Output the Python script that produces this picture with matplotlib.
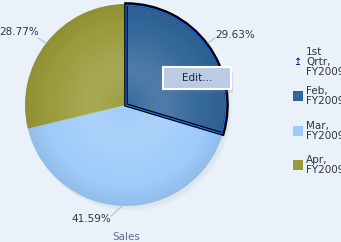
import numpy as np
import matplotlib
matplotlib.use("Agg")
import matplotlib.pyplot as plt
from matplotlib.patches import Wedge, Circle, Rectangle

# data
categories = ["Feb, FY2009", "Mar, FY2009", "Apr, FY2009"]
values = [29.63, 41.59, 28.77]
labels = ["29.63%", "41.59%", "28.77%"]
colors = ["#316699", "#9dcbfa", "#9a9a3a"]
legend_title = "1st\nQrtr,\nFY2009"
axis_title = "Sales"

W, H = 341, 242
fig = plt.figure(figsize=(W / 100, H / 100), dpi=100)
bg = "#ebf1f9"
fig.patch.set_facecolor(bg)
ax = fig.add_axes([0, 0, 1, 1])

def py(y):
    return H - y

cx, cy, R = 126, py(105), 101

# shadow
for i, a in enumerate([0.05, 0.04, 0.03]):
    ax.add_patch(Circle((cx + 2 + i, cy - 2 - i), R + 1, facecolor="#8090a0", alpha=a, lw=0, zorder=1))

wedges, _ = ax.pie(values, colors=colors, startangle=90, counterclock=False,
                   center=(cx, cy), radius=R, frame=False,
                   wedgeprops=dict(linewidth=0, zorder=2))
ax.set_xlim(0, W)
ax.set_ylim(0, H)
ax.set_aspect("equal")
ax.axis("off")

# soft radial shading
n = 300
xs = np.linspace(cx - R, cx + R, n)
ys = np.linspace(cy - R, cy + R, n)
X, Y = np.meshgrid(xs, ys)
r = np.hypot(X - cx, Y - cy) / R
alpha = 0.14 * np.exp(-((r - 0.35) / 0.3) ** 2)
img = np.zeros((n, n, 4))
img[..., :3] = 1.0
img[..., 3] = alpha
im = ax.imshow(img, extent=(cx - R, cx + R, cy - R, cy + R), origin="lower", zorder=3,
               interpolation="bilinear")
im.set_clip_path(Circle((cx, cy), R, transform=ax.transData))
edge = np.clip((r - 0.8) / 0.2, 0, 1) * 0.07
img2 = np.zeros((n, n, 4))
img2[..., 3] = edge
im2 = ax.imshow(img2, extent=(cx - R, cx + R, cy - R, cy + R), origin="lower", zorder=3,
                interpolation="bilinear")
im2.set_clip_path(Circle((cx, cy), R, transform=ax.transData))
ax.set_xlim(0, W)
ax.set_ylim(0, H)

# selected outline on first wedge
w0 = wedges[0]
ax.add_patch(Wedge((cx, cy), R, w0.theta1, w0.theta2, facecolor="none",
                   edgecolor="black", lw=2.6, zorder=4))
ax.add_patch(Wedge((cx, cy), R - 1.2, w0.theta1, w0.theta2, facecolor="none",
                   edgecolor="#1a6cff", lw=0.9, zorder=5))

# labels with leader lines
lab_pos = [(235, 35, "center"), (91, 219, "center"), (19, 32, "center")]
leaders = [((208, 43), (215, 38)), ((122, 206), (111, 216)), ((46, 43), (38, 38))]
for (lx, ly, ha), txt, (p0, p1) in zip(lab_pos, labels, leaders):
    ax.text(lx, py(ly), txt, ha=ha, va="center", fontsize=7.5, color="#333344", zorder=6)
    ax.plot([p0[0], p1[0]], [py(p0[1]), py(p1[1])], color="#b8c0cc", lw=0.8, zorder=6)

ax.text(126, py(237), axis_title, ha="center", va="center", fontsize=7.5, color="#666a90")

# Edit popup
ax.add_patch(Rectangle((165, py(91) - 2), 68, 22, facecolor="#7080a0", alpha=0.2, lw=0, zorder=7))
ax.add_patch(Rectangle((163, py(89)), 68, 22, facecolor="#b9cce4", edgecolor="white", lw=1.5, zorder=8))
ax.text(197, py(78), "Edit...", ha="center", va="center", fontsize=7.5, color="#222233", zorder=9)

# legend
ax.text(306, py(62), legend_title, ha="left", va="center", fontsize=7.5, color="#333344",
        linespacing=0.95)
ax.text(298, py(62), "\u21a5", ha="center", va="center", fontsize=7, color="#00008b")
sw_y = [96, 131, 165]
for c, name, yy in zip(colors, categories, sw_y):
    ax.add_patch(Rectangle((293, py(yy + 5)), 10, 10, facecolor=c, lw=0))
    ax.text(306, py(yy), name.replace(" ", "\n"), ha="left", va="center", fontsize=7.5,
            color="#333344", linespacing=0.95)

fig.savefig("out.png", dpi=100, facecolor=bg)
